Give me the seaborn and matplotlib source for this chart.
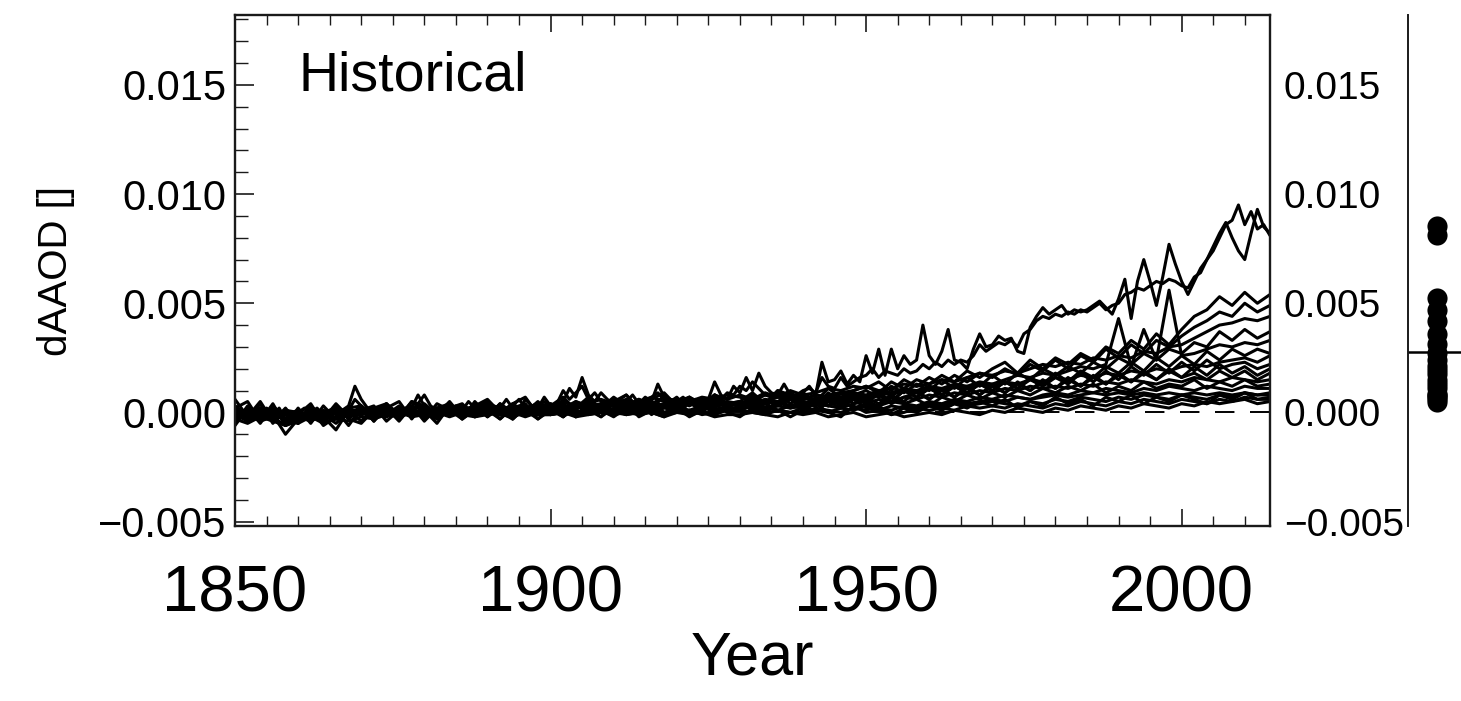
import matplotlib
matplotlib.use("Agg")
import matplotlib.pyplot as plt
import numpy as np
import pandas as pd
import seaborn as sns
from matplotlib.ticker import MultipleLocator, FuncFormatter

# Ensemble members of anthropogenic absorbing aerosol optical depth change,
# stored in units of 1e-4.
UNIT = 1e-4

years_annual = list(range(1850, 2015))
years_biennial = list(range(1850, 2015, 2))

member_a = [
    -1, 1, 0, -2, 1, 0, -1, 2, -3, 0,
    1, -1, 0, 2, -1, 1, 0, 1, 3, 12,
    6, 2, 1, 0, 2, 1, 3, 0, 2, 8,
    3, 1, 2, 0, 1, 3, 2, 1, 5, 2,
    1, 3, 2, 6, 2, 1, 6, 3, 2, 7,
    3, 2, 5, 11, 7, 16, 8, 5, 9, 6,
    4, 6, 8, 5, 4, 7, 5, 13, 7, 5,
    7, 4, 6, 3, 5, 6, 14, 8, 6, 12,
    9, 16, 10, 18, 12, 9, 8, 13, 8, 7,
    9, 12, 8, 23, 14, 15, 19, 13, 17, 14,
    26, 18, 29, 17, 29, 20, 26, 22, 24, 40,
    26, 22, 28, 38, 24, 23, 20, 29, 36, 30,
    31, 35, 33, 34, 28, 27, 39, 44, 48, 45,
    47, 49, 45, 47, 46, 47, 49, 51, 48, 45,
    52, 61, 43, 60, 70, 60, 49, 62, 77, 68,
    60, 54, 60, 66, 70, 76, 82, 87, 80, 74,
    70, 82, 93, 85, 82,
]
member_b = [
    0, -2, 1, 0, -1, 2, 0, -2, 1, -1,
    0, 2, -1, 1, 0, -1, 2, 0, 1, 6,
    3, 1, 0, 2, 1, 0, 2, 1, 0, 4,
    8, 3, 1, 2, 0, 2, 1, 5, 2, 1,
    2, 1, 4, 2, 3, 6, 2, 1, 3, 5,
    2, 4, 10, 6, 9, 12, 6, 9, 5, 4,
    6, 4, 5, 8, 4, 6, 7, 9, 6, 4,
    5, 7, 4, 6, 4, 5, 8, 6, 9, 8,
    12, 10, 14, 11, 8, 7, 10, 9, 6, 8,
    10, 11, 9, 16, 12, 11, 16, 12, 14, 16,
    17, 20, 16, 19, 18, 17, 20, 18, 19, 22,
    20, 23, 21, 24, 22, 24, 23, 26, 31, 28,
    30, 32, 31, 33, 30, 36, 38, 42, 44, 43,
    45, 44, 46, 45, 47, 46, 48, 50, 47, 49,
    50, 54, 55, 57, 56, 58, 60, 59, 61, 60,
    58, 57, 62, 64, 70, 74, 80, 86, 88, 95,
    86, 92, 84, 86, 81,
]

# Biennial members (1850, 1852, ..., 2014): 1850-1948 then 1950-2014.
member_01 = ([-2, 1, -3, 0, -4, -5, -2, 0, 2, -1, 1, -2, 3, 0, 2, -1, 2, 0, 3, 1,
              2, 0, 3, 1, 4, 3, 5, 2, 4, 6, 4, 6, 3, 7, 5, 6, 5, 7, 6, 8,
              7, 5, 8, 7, 9, 6, 8, 7, 9, 10]
             + [12, 9, 14, 11, 15, 13, 17, 14, 19, 16, 20, 23, 18, 24, 20, 25, 22,
                27, 24, 30, 27, 33, 29, 36, 31, 38, 44, 47, 53, 49, 55, 50, 54])
member_02 = ([1, -3, 0, -2, -6, -3, 0, -4, 1, -2, 0, 2, -1, 1, -2, 2, -1, 1, 0, 2,
              0, 3, 1, 2, 0, 4, 2, 5, 3, 4, 5, 3, 6, 4, 7, 5, 7, 4, 8, 6,
              8, 6, 9, 7, 10, 8, 9, 11, 10, 12]
             + [11, 14, 10, 15, 12, 16, 13, 17, 14, 18, 16, 20, 17, 22, 19, 24, 20,
                26, 23, 29, 25, 31, 27, 33, 30, 35, 39, 42, 46, 44, 50, 46, 49])
member_03 = ([3, -2, 4, -4, 1, -5, 2, -3, 4, -2, 3, -4, 2, 5, -3, 4, -1, 5, -2, 3,
              6, 0, 4, 7, -1, 3, 7, 1, 6, 2, 7, 3, 6, 1, 8, 3, 7, 2, 8, 4,
              5, 9, 4, 10, 6, 9, 5, 11, 7, 10]
             + [12, 10, 11, 13, 12, 13, 15, 14, 16, 18, 17, 19, 18, 20, 22, 21, 23,
                22, 25, 24, 26, 25, 28, 27, 30, 31, 34, 37, 40, 41, 43, 42, 44])
member_04 = ([2, -1, 1, -3, -1, -4, -1, -3, 0, -2, 1, -1, 2, -2, 0, 0, 2, -1, 1, 3,
              1, -1, 2, 0, 3, 2, 1, 4, 2, 3, 3, 5, 2, 4, 3, 5, 3, 6, 4, 5,
              4, 6, 5, 7, 6, 7, 6, 8, 9, 8]
             + [10, 7, 12, 9, 13, 10, 15, 11, 16, 12, 17, 13, 18, 15, 20, 17, 21,
                18, 23, 20, 25, 22, 27, 24, 29, 27, 32, 30, 37, 33, 38, 34, 37])
member_05 = [-3, 0, -2, 1, -1, -2, 1, -1, -5, 0, 2, 0, -1, 1, -2, 1, -1, 2, 0, 1,
             -1, 2, 0, 1, 2, 1, 3, 2, 4, 2, 4, 2, 5, 3, 4, 3, 5, 4, 6, 4,
             5, 4, 6, 5, 7, 6, 8, 7, 6, 9, 8, 10, 9, 11, 10, 12, 11, 13, 12, 14,
             13, 15, 17, 16, 18, 17, 19, 21, 20, 22, 43, 21, 38, 24, 56,
             26, 27, 29, 31, 30, 32, 31, 33]
member_06 = ([0, -2, 2, -1, -3, 1, -3, -1, 0, 2, -1, 1, -2, 2, 0, -2, 1, 0, -1, 2,
              0, 1, -1, 2, 1, 2, 0, 3, 1, 2, 3, 1, 4, 2, 3, 2, 4, 3, 5, 3,
              4, 3, 5, 4, 6, 5, 4, 6, 7, 6]
             + [7, 9, 5, 10, 7, 11, 8, 12, 9, 13, 10, 14, 11, 16, 13, 18, 14,
                19, 16, 21, 18, 23, 19, 25, 21, 26, 22, 28, 24, 29, 26, 29, 27])
member_07 = ([-6, 2, -5, 3, -4, -1, 4, -5, 2, -3, 3, -4, 4, -2, 5, 3, -2, 4, -3, 2,
              5, -1, 4, 0, 5, -1, 6, 2, 7, 0, 5, 8, 1, 6, 9, 3, 7, 2, 8, 4,
              3, 8, 2, 9, 4, 8, 3, 9, 5, 8]
             + [7, 9, 8, 10, 9, 11, 10, 12, 11, 13, 12, 14, 13, 15, 14, 16, 15,
                17, 16, 18, 17, 19, 18, 20, 19, 21, 22, 21, 23, 24, 25, 23, 26])
member_08 = ([1, -1, 0, -2, 1, -1, -3, 0, 1, -2, 1, 0, -1, 2, 0, -1, 1, 0, 2, -1,
              1, 0, 2, -1, 1, 2, 1, 0, 2, 3, 1, 3, 2, 1, 3, 2, 4, 2, 3, 4,
              3, 2, 4, 5, 3, 5, 4, 6, 5, 7]
             + [6, 9, 5, 10, 7, 11, 8, 12, 9, 13, 10, 14, 11, 15, 12, 16, 13,
                18, 14, 19, 15, 21, 17, 22, 18, 23, 19, 24, 20, 22, 23, 20, 22])
member_09 = ([-5, 3, -4, 4, -6, 2, -5, 3, -3, 1, -4, 2, 4, -3, 5, 1, -5, 3, -1, 4,
              -2, 4, -3, 3, -1, 4, -2, 5, 2, -2, 5, 0, 6, 1, 4, 6, 0, 3, 7, 1,
              2, 7, 1, 5, 8, 2, 7, 3, 9, 4]
             + [7, 4, 8, 5, 10, 6, 11, 7, 12, 8, 13, 9, 14, 10, 15, 11, 16,
                12, 17, 13, 18, 14, 19, 15, 20, 16, 21, 17, 22, 18, 21, 17, 20])
member_10 = ([0, -3, 1, -1, -10, -3, 0, -2, -8, 1, 0, 1, -1, 0, -1, 1, -1, 0, 1, -2,
              -1, 0, 1, 0, 2, 0, 1, -1, 1, 2, 1, 0, 2, 1, 0, 2, 1, 3, 2, 1,
              3, 2, 1, 3, 2, 4, 3, 5, 4, 6]
             + [5, 8, 4, 7, 9, 6, 10, 7, 11, 8, 12, 9, 13, 10, 14, 11, 15,
                12, 16, 13, 17, 14, 18, 15, 19, 16, 18, 15, 19, 16, 19, 15, 18])
member_11 = ([6, -2, 5, -4, 2, -5, 3, -3, 1, -6, 2, -3, 4, -1, 3, -4, 2, 4, -3, 1,
              3, -3, 2, 4, -3, 1, 4, -2, 5, 2, -1, 4, 5, -1, 3, 4, 5, 0, 5, 2,
              5, 1, 6, 3, 6, 2, 5, 7, 3, 8]
             + [4, 6, 5, 7, 6, 8, 7, 9, 8, 10, 9, 11, 10, 12, 11, 12, 11,
                13, 12, 14, 13, 15, 14, 13, 15, 14, 16, 15, 14, 16, 15, 14, 15])
member_12 = ([-1, -4, 0, -2, -1, 0, -2, 1, -1, -2, -1, 0, -2, 1, 0, 0, 1, -1, 0, 1,
              -1, 0, 1, -1, 0, 1, -1, 0, 1, 0, 0, 2, 1, 0, 2, 1, 0, 2, 1, 2,
              1, 3, 2, 1, 3, 2, 4, 3, 2, 4]
             + [5, 3, 7, 4, 6, 3, 7, 5, 8, 6, 9, 7, 10, 8, 11, 9, 12,
                10, 13, 9, 12, 10, 14, 11, 13, 12, 15, 11, 14, 12, 15, 12, 13])
member_13 = ([2, 5, -4, 3, -3, -3, 2, -6, -2, 2, 3, -3, 2, -4, 3, 1, -3, 2, 4, -2,
              1, -3, 3, 1, -3, 2, 4, -2, 1, 4, 3, -1, 4, 5, 0, 1, 4, 5, 0, 3,
              5, 2, -1, 5, 3, 2, 6, 3, 6, 2]
             + [4, 3, 5, 4, 3, 5, 4, 6, 5, 7, 6, 8, 7, 6, 8, 9, 8,
                10, 9, 11, 10, 9, 11, 10, 12, 11, 10, 12, 11, 10, 12, 11, 11])
member_14 = [-3, -1, -4, -2, 0, -2, -4, -1, -3, -1, 0, -2, -1, 0, -2, -1, 0, -2, 0, -1,
             0, -1, 0, -2, 0, -1, 0, 1, -1, 0, 1, -1, 0, 1, 0, 0, 1, -1, 0, 1,
             1, 0, 2, 1, 0, 2, 1, 0, 2, 1, 3, 2, 1, 3, 2, 4, 3, 5, 4, 5,
             6, 5, 7, 6, 7, 8, 7, 8, 9, 8, 9, 8, 9, 8, 9,
             8, 9, 8, 9, 8, 9, 8, 9]
member_15 = ([3, -4, -2, 2, -5, -3, 2, -5, 3, -3, -5, 1, 3, -3, 2, 3, -3, 1, -2, 3,
              -2, 2, -3, 3, 1, 2, -2, 4, 1, -2, 2, 4, -2, 1, 4, 3, 0, 4, -1, 2,
              1, 4, 0, 5, 2, 3, 0, 5, 2, 6]
             + [2, 1, 3, 2, 1, 3, 2, 4, 3, 4, 5, 4, 3, 5, 4, 6, 5,
                7, 6, 5, 7, 6, 8, 7, 6, 8, 7, 6, 8, 7, 9, 8, 8])
member_16 = ([-2, 0, -1, -3, 1, 0, -1, -3, 0, -2, 1, -1, 0, -1, 1, -1, 0, 1, -1, 0,
              0, -1, 0, 1, -1, -1, 0, -1, 0, 1, 0, -1, 0, 1, -1, 0, 1, 0, -1, 1,
              1, 0, -1, 1, 0, 0, 2, 1, 0, 2]
             + [1, 3, -1, 2, 0, 3, 1, 4, 2, 5, 3, 6, 2, 5, 3, 7, 4,
                6, 3, 7, 5, 8, 4, 7, 5, 8, 6, 4, 8, 6, 9, 6, 7])
member_17 = ([2, -3, 4, -5, 1, -4, 3, -3, 2, -2, 1, 3, -4, 1, 3, -3, 4, 1, -3, 2,
              4, 0, -3, 2, 4, 1, -2, 2, 4, 1, -2, 2, 4, 0, -2, 2, -2, 1, 4, 0,
              -2, 2, 4, 1, -2, 1, 4, 0, -2, 3]
             + [0, 1, -1, 0, 2, 1, 2, 1, 3, 2, 3, 2, 4, 3, 2, 4, 3,
                5, 4, 3, 5, 4, 6, 5, 4, 6, 5, 4, 6, 5, 7, 6, 6])
member_18 = [-3, -5, -2, -4, -6, -4, -2, -5, -3, -4, -2, -3, -1, -2, 0, -1, -2, 0, -1, -2,
             0, -1, -2, 0, -1, -1, 0, -2, -1, 0, -1, 0, -1, 0, -2, 0, -1, 0, -2, -1,
             -1, 0, -1, -2, 0, -1, 0, -2, -1, 0, -2, -1, 0, -2, -1, 0, -1, 1, 0, -1,
             1, 0, 2, 1, 0, 2, 1, 3, 2, 1, 3, 2, 4, 3, 2,
             4, 3, 5, 4, 5, 6, 4, 5]

annual_members = {"A": member_a, "B": member_b}
biennial_members = {
    "01": member_01, "02": member_02, "03": member_03, "04": member_04,
    "05": member_05, "06": member_06, "07": member_07, "08": member_08,
    "09": member_09, "10": member_10, "11": member_11, "12": member_12,
    "13": member_13, "14": member_14, "15": member_15, "16": member_16,
    "17": member_17, "18": member_18,
}

x_ticks = [1850, 1900, 1950, 2000]
y_ticks = [-0.005, 0.000, 0.005, 0.010, 0.015]
title_text = "Historical"
x_label = "Year"
y_label = "dAAOD []"
recent_start = 2005  # members are summarised by their mean from this year on

# ---- long-form table ---------------------------------------------------------
rows = []
for name, vals in annual_members.items():
    rows += [(name, y, v * UNIT) for y, v in zip(years_annual, vals, strict=True)]
for name, vals in biennial_members.items():
    rows += [(name, y, v * UNIT) for y, v in zip(years_biennial, vals, strict=True)]
df = pd.DataFrame(rows, columns=["member", "year", "daaod"])

recent = (df[df["year"] >= recent_start]
          .groupby("member", as_index=False)["daaod"].mean())
ensemble_mean = recent["daaod"].mean()

# ---- figure ------------------------------------------------------------------
sns.set_theme(style="ticks")
plt.rcParams["font.family"] = ["Liberation Sans", "DejaVu Sans"]
plt.rcParams["axes.unicode_minus"] = True
plt.rcParams["text.color"] = "black"
plt.rcParams["axes.labelcolor"] = "black"

W, H = 1461, 701
fig = plt.figure(figsize=(W / 100, H / 100), dpi=100)
fig.patch.set_facecolor("white")

ax = fig.add_axes([235 / W, 1 - 526 / H, (1270 - 235) / W, (526 - 15) / H])
ax.set_facecolor("white")

ax.axhline(0.0, color="black", lw=1.4, ls=(0, (10, 8)), zorder=1)
sns.lineplot(data=df, x="year", y="daaod", units="member", estimator=None,
             color="black", linewidth=2.2, legend=False, ax=ax, zorder=2)

ylim = (-0.0052, 0.0182)
ax.set_xlim(1850, 2014)
ax.set_ylim(*ylim)

minus_fmt = FuncFormatter(lambda v, p: f"{v:.3f}".replace("-", "\u2212"))
ax.set_xticks(x_ticks)
ax.set_yticks(y_ticks)
ax.yaxis.set_major_formatter(minus_fmt)
ax.xaxis.set_minor_locator(MultipleLocator(5))
ax.yaxis.set_minor_locator(MultipleLocator(0.001))

frame = "#1a1a1a"
for sp in ax.spines.values():
    sp.set_visible(True)
    sp.set_color(frame)
    sp.set_linewidth(1.7)
ax.tick_params(axis="both", which="both", direction="in", top=True, right=True,
               color=frame, labelcolor="black")
ax.tick_params(axis="y", which="major", length=14, width=1.2, labelsize=30, pad=6)
ax.tick_params(axis="y", which="minor", length=9, width=1.0)
ax.tick_params(axis="x", which="major", length=12, width=1.2, labelsize=47, pad=28)
ax.tick_params(axis="x", which="minor", length=7, width=1.0)

ax.set_xlabel(x_label, fontsize=44, color="black")
ax.xaxis.set_label_coords(0.5, -0.205)
ax.set_ylabel(y_label, fontsize=29, color="black")
ax.yaxis.set_label_coords(-0.155, 0.5)

ax.text(0.061, 0.853, title_text, transform=ax.transAxes, fontsize=40,
        ha="left", va="baseline", color="black")

# Value labels along the right-hand frame
ax_r = ax.twinx()
ax_r.set_ylim(*ylim)
ax_r.set_yticks(y_ticks)
ax_r.yaxis.set_major_formatter(minus_fmt)
ax_r.tick_params(axis="y", which="both", length=0, labelsize=28, pad=10,
                 labelcolor="black")
for sp in ax_r.spines.values():
    sp.set_visible(False)
ax_r.grid(False)

# ---- side panel: recent mean of each member and the ensemble mean -------------
ax2 = fig.add_axes([1408 / W, 1 - 526 / H, (W - 1408) / W + 0.01, (526 - 15) / H])
ax2.set_facecolor("white")
sns.stripplot(y=recent["daaod"], jitter=False, color="black", size=14.5,
              linewidth=0, ax=ax2, zorder=3)
ax2.axhline(ensemble_mean, color="black", lw=1.8, zorder=2)
ax2.set_xlim(-0.43, 0.57)
ax2.set_ylim(*ylim)
ax2.set_xticks([])
ax2.set_yticks([])
ax2.set_xlabel("")
ax2.set_ylabel("")
for side in ["top", "right", "bottom"]:
    ax2.spines[side].set_visible(False)
ax2.spines["left"].set_color(frame)
ax2.spines["left"].set_linewidth(1.4)

fig.savefig("out.png", dpi=100, facecolor="white")
